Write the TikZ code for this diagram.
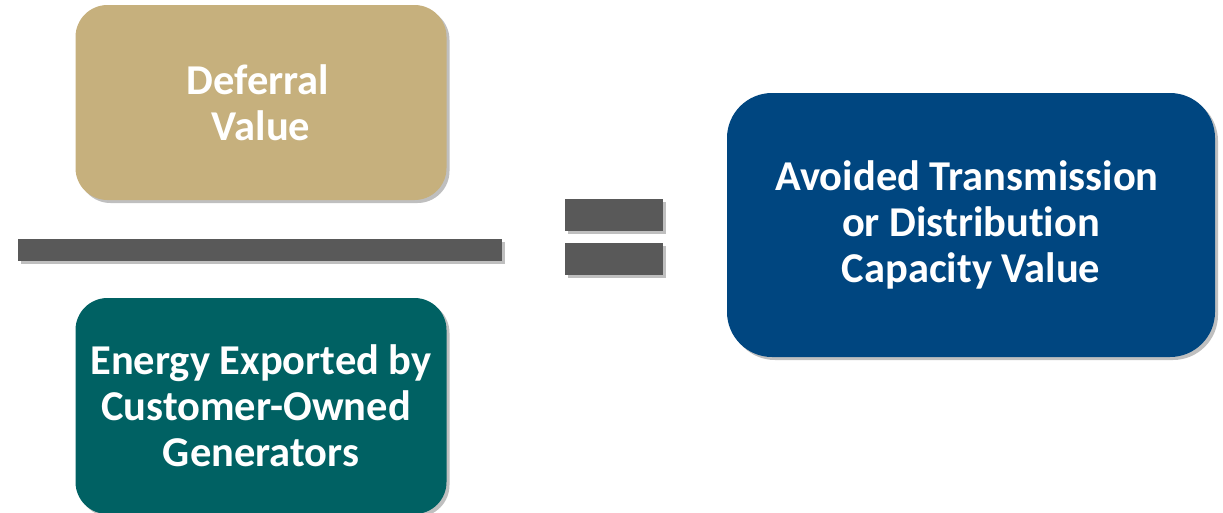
\documentclass[tikz,border=0pt]{standalone}
\usepackage{fontspec}
\setmainfont{Carlito}[RawFeature=-liga]
\usetikzlibrary{shadows}
\definecolor{tan}{HTML}{C6B07D}
\definecolor{teal}{HTML}{006163}
\definecolor{navy}{HTML}{004680}
\definecolor{bar}{HTML}{595959}
\tikzset{
  box/.style={rectangle, inner sep=0pt, align=center, text=white,
    font=\fontsize{42.5}{46}\selectfont\bfseries,
    drop shadow={shadow xshift=3pt, shadow yshift=-3pt, opacity=0.25, fill=black}},
  barbox/.style={rectangle, inner sep=0pt, fill=bar,
    drop shadow={shadow xshift=3pt, shadow yshift=-3pt, opacity=0.25, fill=black}}
}
\begin{document}
\begin{tikzpicture}[x=1pt,y=-1pt]
\useasboundingbox (0,0) rectangle (1223,512);
\clip (0,0) rectangle (1223,512);
\node[box, fill=tan, rounded corners=32pt, minimum width=371pt, minimum height=195pt]
  (defer) at (261,102.5) {\hspace*{-6pt}Deferral\\Value};
\node[barbox, minimum width=484pt, minimum height=22pt] (frac) at (260,250) {};
\node[box, fill=teal, rounded corners=32pt, minimum width=371pt, minimum height=216pt]
  (energy) at (261,406) {Energy Exported by\\Customer-Owned\phantom{ }\\Generators};
\node[barbox, minimum width=98pt, minimum height=32pt] (eqtop) at (614,215) {};
\node[barbox, minimum width=98pt, minimum height=32pt] (eqbot) at (614,259) {};
\node[box, fill=navy, rounded corners=45pt, minimum width=488pt, minimum height=264pt]
  (avoid) at (971,225) {\hspace*{-8pt}Avoided Transmission\\or Distribution\\Capacity Value};
\end{tikzpicture}
\end{document}
